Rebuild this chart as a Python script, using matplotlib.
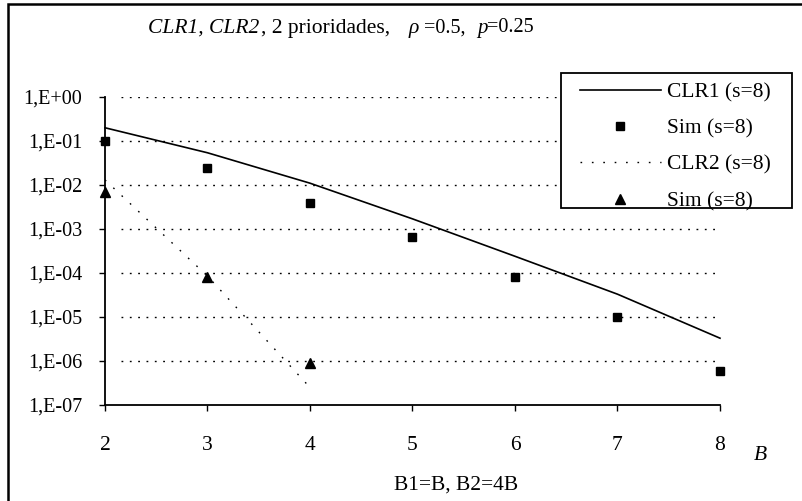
import matplotlib
matplotlib.use("Agg")
from matplotlib import pyplot as plt
from matplotlib.patches import Rectangle
from matplotlib.ticker import FixedLocator, NullLocator

plt.rcParams['font.family'] = ['Liberation Serif', 'DejaVu Serif']

# данные
B = [2, 3, 4, 5, 6, 7, 8]
clr1 = [2.0e-1, 5.4e-2, 1.1e-2, 1.7e-3, 2.4e-4, 3.3e-5, 3.3e-6]
sim1 = [1.0e-1, 2.4e-2, 4.0e-3, 6.5e-4, 8.0e-5, 1.0e-5, 5.8e-7]
B2 = [2, 3, 4]
clr2 = [1.3e-2, 8.5e-5, 2.5e-7]
sim2 = [7.0e-3, 8.0e-5, 9.0e-7]

y_ticks = [1e0, 1e-1, 1e-2, 1e-3, 1e-4, 1e-5, 1e-6, 1e-7]
y_labels = ['1,E+00', '1,E-01', '1,E-02', '1,E-03', '1,E-04', '1,E-05', '1,E-06', '1,E-07']

# куски заголовка: (текст, стиль, x в пикселях, размер)
title_parts = [('CLR1, CLR2', 'italic', 148, 15.5), (', 2 prioridades,', 'normal', 261, 15.5),
               ('ρ', 'italic', 409, 15.5), ('=0.5,', 'normal', 424, 14.5),
               ('p', 'italic', 477, 15), ('=0.25', 'normal', 487, 14.5)]

fs_y = 14.5
fs_x = 15.5
fs_leg = 15.5

fig = plt.figure(figsize=(8.03, 5.01), dpi=100)
ax = fig.add_axes([105 / 803, 96 / 501, 615 / 803, 308 / 501])

ax.set_yscale('log')
ax.set_ylim(1e-7, 1e0)
ax.set_xlim(2, 8)

# сетка
for yv in y_ticks[:-1]:
    ax.plot([2.16, 7.98], [yv, yv], color='black', lw=1.0,
            linestyle=(0, (1.3, 4.7)), zorder=1)

ax.plot(B, clr1, color='black', lw=1.2, label='CLR1 (s=8)', zorder=3, clip_on=False)
ax.plot(B, sim1, 's', color='black', ms=5.5, label='Sim (s=8)', zorder=4, clip_on=False)
ax.plot(B2, clr2, color='black', lw=1.0, linestyle=(0, (1.2, 7)), label='CLR2 (s=8)', zorder=3)
ax.plot(B2, sim2, '^', color='black', ms=6.5, label='Sim (s=8)', zorder=4, clip_on=False)

ax.spines['top'].set_visible(False)
ax.spines['right'].set_visible(False)
ax.spines['left'].set_linewidth(1.3)
ax.spines['bottom'].set_linewidth(1.3)

ax.yaxis.set_major_locator(FixedLocator(y_ticks))
ax.yaxis.set_minor_locator(NullLocator())
ax.set_yticklabels(y_labels, fontsize=fs_y)
ax.set_xticks(B)
ax.set_xticklabels([str(b) for b in B], fontsize=fs_x)
ax.tick_params(axis='y', direction='out', length=4.5, width=1, pad=12)
ax.tick_params(axis='x', direction='out', length=4, width=1, pad=18)

fig.text(760 / 803, 1 - 455 / 501, 'B', fontsize=fs_x, style='italic', ha='center', va='center')
fig.text(456 / 803, 1 - 485 / 501, 'B1=B, B2=4B', fontsize=fs_leg, ha='center', va='center')

for txt, st, px, fs in title_parts:
    fig.text(px / 803, 1 - 28 / 501, txt, fontsize=fs, style=st, ha='left', va='center')

# рамка легенды рисуется отдельно
ax.add_patch(Rectangle((561 / 803, 1 - 208 / 501), 231 / 803, 135 / 501,
                       transform=fig.transFigure, facecolor='white',
                       edgecolor='black', lw=1.3, clip_on=False, zorder=5))
leg = ax.legend(loc='upper left', bbox_to_anchor=(580 / 803, 1 - 82 / 501),
                bbox_transform=fig.transFigure, fontsize=fs_leg, frameon=False,
                handlelength=3.75, handletextpad=0.3, labelspacing=0.76,
                borderpad=0, borderaxespad=0)
leg.set_zorder(6)

# внешняя рамка
fig.patches.append(Rectangle((8 / 803, -0.1), 1.2, 1 - 4 / 501 + 0.1,
                             transform=fig.transFigure, fill=False,
                             edgecolor='black', lw=1.8, clip_on=False))

fig.savefig('out.png', dpi=100)
